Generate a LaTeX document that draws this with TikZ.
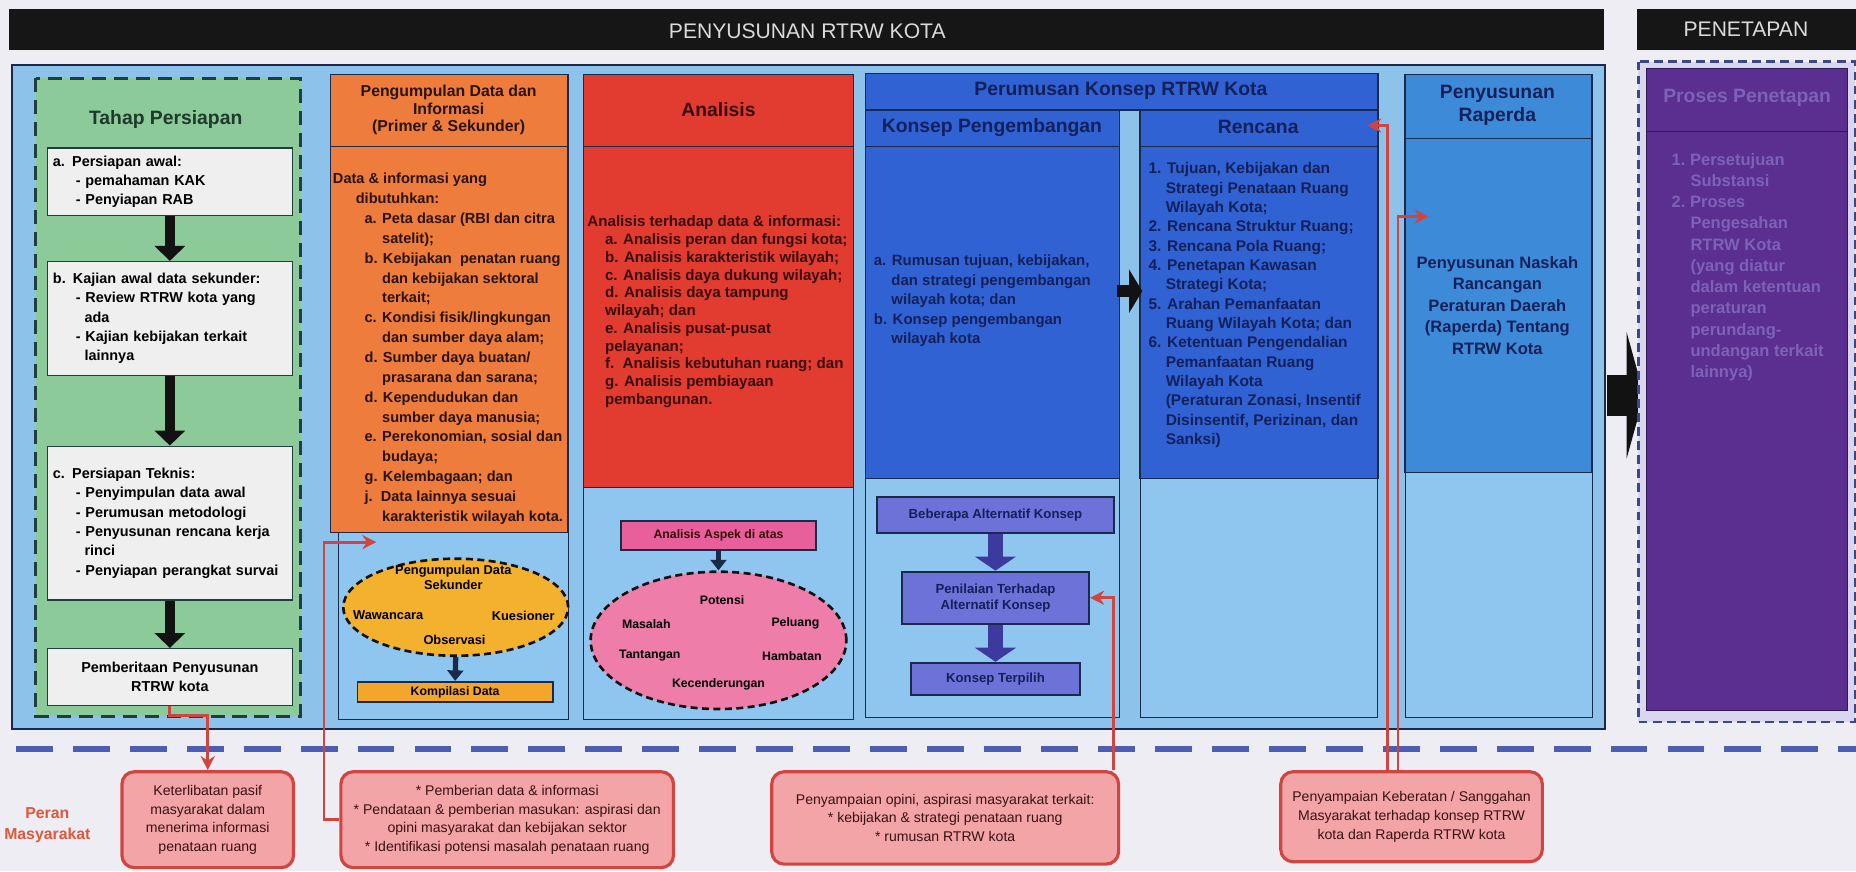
\documentclass[tikz,border=0pt]{standalone}
\usepackage{fontspec}
\setmainfont{Liberation Sans}
\usetikzlibrary{shapes,arrows.meta}
\newcommand{\pxu}{0.0236735cm}

\begin{document}
\begin{tikzpicture}[x=\pxu,y=-\pxu,
    bartext/.style={text=bartxt,font=\fontsize{12}{14}\selectfont},
    coltitle/.style={font=\fontsize{11}{13}\bfseries,align=center},
    colbody/.style={anchor=north west,align=left,inner sep=0pt},
    tbox/.style={draw=tahapline,fill=boxgray,line width=0.8pt,inner xsep=3pt,
      text width=133pt,align=left,minimum width=207*\pxu,
      font=\fontsize{8.2}{11}\bfseries},
    elltext/.style={font=\fontsize{7.3}{8.7}\bfseries,align=center,inner sep=1pt},
    kbox/.style={draw=navy,fill=konbox,line width=1.2pt,align=center,
      font=\fontsize{7.5}{9}\bfseries,text=navytext},
    peranbox/.style={draw=peranred,fill=peranpink,line width=1.8pt,rounded corners=7pt,
      align=center,font=\fontsize{8}{10.6}\selectfont,text=perantext},
    blk/.style={draw=arrblack,line width=5.7pt,-{Triangle[length=8.5pt,width=17pt]}},
    blkside/.style={draw=arrblack,line width=6.7pt,-{Triangle[length=7.5pt,width=24.5pt]}},
    bigarr/.style={draw=arrblack,line width=23pt,-{Triangle[length=10pt,width=72pt]}},
    bluearr/.style={draw=konarr,line width=8pt,-{Triangle[length=8pt,width=23pt]}},
    smallarr/.style={draw=navy,line width=3pt,-{Triangle[length=6pt,width=9pt]}},
    redarr/.style={draw=peranred,line width=1.6pt,-{Stealth[length=8pt,width=8pt]}}]

    % colours %
    \definecolor{bgcol}{HTML}{EDEDF3}
    \definecolor{barblack}{HTML}{161616}
    \definecolor{bartxt}{HTML}{DADADA}
    \definecolor{navy}{HTML}{1B2A4A}
    \definecolor{panelblue}{HTML}{8DC3EB}
    \definecolor{lightpanel}{HTML}{8EC6F0}
    \definecolor{tahapgreen}{HTML}{8CCB99}
    \definecolor{tahapline}{HTML}{1F3E3E}
    \definecolor{tahaptext}{HTML}{1D3A2B}
    \definecolor{boxgray}{HTML}{EFEFEF}
    \definecolor{pgorange}{HTML}{EE7C3C}
    \definecolor{pgtext}{HTML}{2A140A}
    \definecolor{ellyellow}{HTML}{F4B12E}
    \definecolor{komporange}{HTML}{F4A62A}
    \definecolor{anred}{HTML}{E23B30}
    \definecolor{antext}{HTML}{3A0C08}
    \definecolor{aspekpink}{HTML}{E7609B}
    \definecolor{ellpink}{HTML}{EF7DAA}
    \definecolor{perblue}{HTML}{3062D3}
    \definecolor{navytext}{HTML}{14205A}
    \definecolor{konbox}{HTML}{6C72D8}
    \definecolor{konarr}{HTML}{3C3A9E}
    \definecolor{rapblue}{HTML}{3D8BD8}
    \definecolor{ptfill}{HTML}{D9D6EE}
    \definecolor{ptdash}{HTML}{3A4888}
    \definecolor{ptpurple}{HTML}{5A2F8F}
    \definecolor{ptdark}{HTML}{2E1A55}
    \definecolor{pttext}{HTML}{7E62B8}
    \definecolor{masyline}{HTML}{4B5EB6}
    \definecolor{peranred}{HTML}{D0453F}
    \definecolor{peranpink}{HTML}{F2A4A7}
    \definecolor{perantext}{HTML}{3A1212}
    \definecolor{peranorange}{HTML}{E0573C}
    \definecolor{arrblack}{HTML}{121212}

    \fill[bgcol] (0,0) rectangle (1568,736);
    \useasboundingbox (0,0) rectangle (1568,736);

    % header bars %
    \fill[barblack] (8,8) rectangle (1355,42);
    \node[bartext] (hdPenyusunan) at (682,26) {PENYUSUNAN RTRW KOTA};
    \fill[barblack] (1383,8) rectangle (1568,42);
    \node[bartext] (hdPenetapan) at (1475,25) {PENETAPAN};

    % main panel %
    \draw[fill=panelblue,draw=navy,line width=1.2pt] (10,55) rectangle (1356,616);

    % tahap persiapan %
    \draw[fill=tahapgreen,draw=tahapline,line width=1.7pt,dash pattern=on 8pt off 4.5pt] (30,66) rectangle (254,605);
    \node[coltitle,text=tahaptext] (tahapTitle) at (140,101) {Tahap Persiapan};
    \node[tbox,minimum height=57*\pxu] (prepA) at (143.5,153.5) {a. Persiapan awal:\\
      \hspace*{13pt}- pemahaman KAK\\
      \hspace*{13pt}- Penyiapan RAB};
    \node[tbox,minimum height=96*\pxu] (prepB) at (143.5,269) {b. Kajian awal data sekunder:\\
      \hspace*{13pt}- Review RTRW kota yang\\
      \hspace*{18pt}ada\\
      \hspace*{13pt}- Kajian kebijakan terkait\\
      \hspace*{18pt}lainnya};
    \node[tbox,minimum height=130*\pxu] (prepC) at (143.5,442) {c. Persiapan Teknis:\\
      \hspace*{13pt}- Penyimpulan data awal\\
      \hspace*{13pt}- Perumusan metodologi\\
      \hspace*{13pt}- Penyusunan rencana kerja\\
      \hspace*{18pt}rinci\\
      \hspace*{13pt}- Penyiapan perangkat survai};
    \node[tbox,minimum height=48*\pxu,align=center] (prepD) at (143.5,572) {Pemberitaan Penyusunan\\RTRW kota};
    \draw[blk] (prepA.south) -- (prepB.north);
    \draw[blk] (prepB.south) -- (prepC.north);
    \draw[blk] (prepC.south) -- (prepD.north);

    % pengumpulan data %
    \draw[draw=navy,fill=lightpanel] (286,450) rectangle (480,608);
    \draw[draw=navy,fill=pgorange,line width=0.8pt] (279,63) rectangle (480,450);
    \draw[navy] (279,124) -- (480,124);
    \node[font=\fontsize{9}{10}\bfseries,align=center,text=pgtext] (pgTitle) at (379,93) {Pengumpulan Data dan\\Informasi\\(Primer \& Sekunder)};
    \node[colbody,font=\fontsize{8.3}{11.3}\bfseries,text=pgtext] (pgBody) at (281,146) {Data \& informasi yang\\
      \hspace*{13pt}dibutuhkan:\\
      \hspace*{18pt}a. Peta dasar (RBI dan citra\\
      \hspace*{28pt}satelit);\\
      \hspace*{18pt}b. Kebijakan\ \ penatan ruang\\
      \hspace*{28pt}dan kebijakan sektoral\\
      \hspace*{28pt}terkait;\\
      \hspace*{18pt}c. Kondisi fisik/lingkungan\\
      \hspace*{28pt}dan sumber daya alam;\\
      \hspace*{18pt}d. Sumber daya buatan/\\
      \hspace*{28pt}prasarana dan sarana;\\
      \hspace*{18pt}d. Kependudukan dan\\
      \hspace*{28pt}sumber daya manusia;\\
      \hspace*{18pt}e. Perekonomian, sosial dan\\
      \hspace*{28pt}budaya;\\
      \hspace*{18pt}g. Kelembagaan; dan\\
      \hspace*{18pt}j.\ \ Data lainnya sesuai\\
      \hspace*{28pt}karakteristik wilayah kota.};
    \node[ellipse,draw=arrblack,fill=ellyellow,line width=1.5pt,dash pattern=on 4pt off 2.5pt,
      minimum width=190*\pxu,minimum height=82*\pxu] (sekunder) at (385,513) {};
    \node[elltext] (sekTitle) at (383,488) {Pengumpulan Data\\Sekunder};
    \node[elltext] (wawancara) at (328,520) {Wawancara};
    \node[elltext] (kuesioner) at (442,520) {Kuesioner};
    \node[elltext] (observasi) at (384,541) {Observasi};
    \node[draw=navy,fill=komporange,line width=1pt,minimum width=165*\pxu,minimum height=17*\pxu,
      inner sep=0pt,font=\fontsize{7}{8}\bfseries] (kompilasi) at (384.5,584.5) {Kompilasi Data};
    \draw[smallarr] (sekunder.south) -- (kompilasi.north);

    % analisis %
    \draw[draw=navy,fill=lightpanel] (493,412) rectangle (721,608);
    \draw[draw=navy,fill=anred,line width=0.8pt] (493,63) rectangle (721,412);
    \draw[navy] (493,124) -- (721,124);
    \node[coltitle,text=antext] (anTitle) at (607,93) {Analisis};
    \node[colbody,font=\fontsize{8.6}{10.1}\bfseries,text=antext] (anBody) at (496,182) {Analisis terhadap data \& informasi:\\
      \hspace*{10pt}a. Analisis peran dan fungsi kota;\\
      \hspace*{10pt}b. Analisis karakteristik wilayah;\\
      \hspace*{10pt}c. Analisis daya dukung wilayah;\\
      \hspace*{10pt}d. Analisis daya tampung\\
      \hspace*{10pt}wilayah; dan\\
      \hspace*{10pt}e. Analisis pusat-pusat\\
      \hspace*{10pt}pelayanan;\\
      \hspace*{10pt}f.\ \ Analisis kebutuhan ruang; dan\\
      \hspace*{10pt}g. Analisis pembiayaan\\
      \hspace*{10pt}pembangunan.};
    \node[draw=navy,fill=aspekpink,line width=1.2pt,minimum width=164*\pxu,minimum height=25*\pxu,
      inner sep=0pt,font=\fontsize{7}{8}\bfseries,text=antext] (aspek) at (607,452.5) {Analisis Aspek di atas};
    \node[ellipse,draw=arrblack,fill=ellpink,line width=1.5pt,dash pattern=on 4pt off 2.5pt,
      minimum width=216*\pxu,minimum height=116*\pxu] (aspekEll) at (607,541) {};
    \node[elltext,font=\fontsize{7}{8}\bfseries] (potensi) at (610,507) {Potensi};
    \node[elltext,font=\fontsize{7}{8}\bfseries] (masalah) at (546,527) {Masalah};
    \node[elltext,font=\fontsize{7}{8}\bfseries] (peluang) at (672,527) {Peluang};
    \node[elltext,font=\fontsize{7}{8}\bfseries] (tantangan) at (549,554) {Tantangan};
    \node[elltext,font=\fontsize{7}{8}\bfseries] (hambatan) at (669,554) {Hambatan};
    \node[elltext,font=\fontsize{7}{8}\bfseries] (kecenderungan) at (607,578) {Kecenderungan};
    \draw[smallarr] (aspek.south) -- (aspekEll.north);

    % perumusan konsep %
    \draw[draw=navy,fill=perblue,line width=0.8pt] (731,62) rectangle (1164,93);
    \node[coltitle,text=navytext] (perTitle) at (947,77) {Perumusan Konsep RTRW Kota};
    \draw[draw=navy,fill=lightpanel] (731,93) rectangle (946,606);
    \draw[draw=navy,fill=perblue,line width=0.8pt] (731,93) rectangle (946,404);
    \draw[navy] (731,124) -- (946,124);
    \node[coltitle,text=navytext] (kpTitle) at (838,108) {Konsep Pengembangan};
    \node[colbody,font=\fontsize{8.5}{11.1}\bfseries,text=navytext] (kpBody) at (738,215) {a. Rumusan tujuan, kebijakan,\\
      \hspace*{10pt}dan strategi pengembangan\\
      \hspace*{10pt}wilayah kota; dan\\
      b. Konsep pengembangan\\
      \hspace*{10pt}wilayah kota};
    \draw[draw=navy,fill=lightpanel] (963,93) rectangle (1164,606);
    \draw[draw=navy,fill=perblue,line width=0.8pt] (963,93) rectangle (1164,404);
    \draw[navy] (963,124) -- (1164,124);
    \node[coltitle,text=navytext] (rnTitle) at (1063,107) {Rencana};
    \node[colbody,font=\fontsize{8.8}{11}\bfseries,text=navytext] (rnBody) at (970,137) {1. Tujuan, Kebijakan dan\\
      \hspace*{9.8pt}Strategi Penataan Ruang\\
      \hspace*{9.8pt}Wilayah Kota;\\
      2. Rencana Struktur Ruang;\\
      3. Rencana Pola Ruang;\\
      4. Penetapan Kawasan\\
      \hspace*{9.8pt}Strategi Kota;\\
      5. Arahan Pemanfaatan\\
      \hspace*{9.8pt}Ruang Wilayah Kota; dan\\
      6. Ketentuan Pengendalian\\
      \hspace*{9.8pt}Pemanfaatan Ruang\\
      \hspace*{9.8pt}Wilayah Kota\\
      \hspace*{9.8pt}(Peraturan Zonasi, Insentif\\
      \hspace*{9.8pt}Disinsentif, Perizinan, dan\\
      \hspace*{9.8pt}Sanksi)};
    \coordinate (kpOut) at (944,246);
    \coordinate (rnIn) at (965,246);
    \draw[blkside] (kpOut) -- (rnIn);

    % alternatif konsep %
    \node[kbox,minimum width=200*\pxu,minimum height=30*\pxu] (alternatif) at (841,435) {Beberapa Alternatif Konsep};
    \node[kbox,minimum width=158*\pxu,minimum height=44*\pxu] (penilaian) at (841,505) {Penilaian Terhadap\\Alternatif Konsep};
    \node[kbox,minimum width=143*\pxu,minimum height=27*\pxu] (terpilih) at (841,573.5) {Konsep Terpilih};
    \draw[bluearr] (alternatif.south) -- (penilaian.north);
    \draw[bluearr] (penilaian.south) -- (terpilih.north);

    % raperda %
    \draw[draw=navy,fill=lightpanel] (1187,63) rectangle (1345,606);
    \draw[draw=navy,fill=rapblue,line width=0.8pt] (1187,63) rectangle (1345,399);
    \draw[navy] (1187,117) -- (1345,117);
    \node[font=\fontsize{11}{13.4}\bfseries,align=center,text=navytext] (rpTitle) at (1265,89) {Penyusunan\\Raperda};
    \node[font=\fontsize{9.4}{12.3}\bfseries,align=center,text=navytext] (rpBody) at (1265,258) {Penyusunan Naskah\\Rancangan\\Peraturan Daerah\\(Raperda) Tentang\\RTRW Kota};
    \coordinate (rpOut) at (1358,334);
    \coordinate (ptIn) at (1389,334);
    \draw[bigarr] (rpOut) -- (ptIn);

    % penetapan %
    \draw[fill=ptfill,draw=ptdash,line width=1.5pt,dash pattern=on 5pt off 3pt] (1384,52) rectangle (1567,610);
    \draw[fill=ptpurple,draw=ptdark,line width=0.8pt] (1391,58) rectangle (1561,600);
    \draw[ptdark] (1391,111) -- (1561,111);
    \node[coltitle,text=pttext] (ptTitle) at (1476,83) {Proses Penetapan};
    \node[colbody,font=\fontsize{9.4}{12.1}\bfseries,text=pttext] (ptBody) at (1412,129) {1.\ Persetujuan\\
      \hspace*{10.7pt}Substansi\\
      2.\ Proses\\
      \hspace*{10.7pt}Pengesahan\\
      \hspace*{10.7pt}RTRW Kota\\
      \hspace*{10.7pt}(yang diatur\\
      \hspace*{10.7pt}dalam ketentuan\\
      \hspace*{10.7pt}peraturan\\
      \hspace*{10.7pt}perundang-\\
      \hspace*{10.7pt}undangan terkait\\
      \hspace*{10.7pt}lainnya)};

    % peran masyarakat %
    \draw[masyline,line width=3.4pt,dash pattern=on 21pt off 11.4pt,dash phase=-9pt] (0,633) -- (1568,633);
    \node[font=\fontsize{9}{12}\bfseries,align=center,text=peranorange] (peranLabel) at (40,697) {Peran\\Masyarakat};
    \node[peranbox,minimum width=145*\pxu,minimum height=81*\pxu] (peran1) at (175.5,692.5) {Keterlibatan pasif\\masyarakat dalam\\menerima informasi\\penataan ruang};
    \node[peranbox,minimum width=281*\pxu,minimum height=81*\pxu] (peran2) at (428.5,692.5) {* Pemberian data \& informasi\\* Pendataan \& pemberian masukan: aspirasi dan\\opini masyarakat dan kebijakan sektor\\* Identifikasi potensi masalah penataan ruang};
    \node[peranbox,minimum width=293*\pxu,minimum height=78*\pxu] (peran3) at (798.5,691) {Penyampaian opini, aspirasi masyarakat terkait:\\* kebijakan \& strategi penataan ruang\\* rumusan RTRW kota};
    \node[peranbox,minimum width=221*\pxu,minimum height=76*\pxu] (peran4) at (1192.5,690) {Penyampaian Keberatan / Sanggahan\\Masyarakat terhadap konsep RTRW\\kota dan Raperda RTRW kota};

    % red links %
    \coordinate (pgIn) at (318,458);
    \coordinate (rnHeadIn) at (1155,106);
    \coordinate (rpIn) at (1207,183);
    \draw[redarr] (prepD.south) -- ++(0,8) -| (peran1.north);
    \draw[redarr] (peran2.west) -- ++(-13,0) |- (pgIn);
    \draw[redarr] ([xshift=-4pt]peran3.north east) |- (penilaian.east);
    \draw[redarr] ([xshift=-13.8pt]peran4.north) |- (rnHeadIn);
    \draw[redarr] ([xshift=-7.7pt]peran4.north) |- (rpIn);
\end{tikzpicture}
\end{document}
